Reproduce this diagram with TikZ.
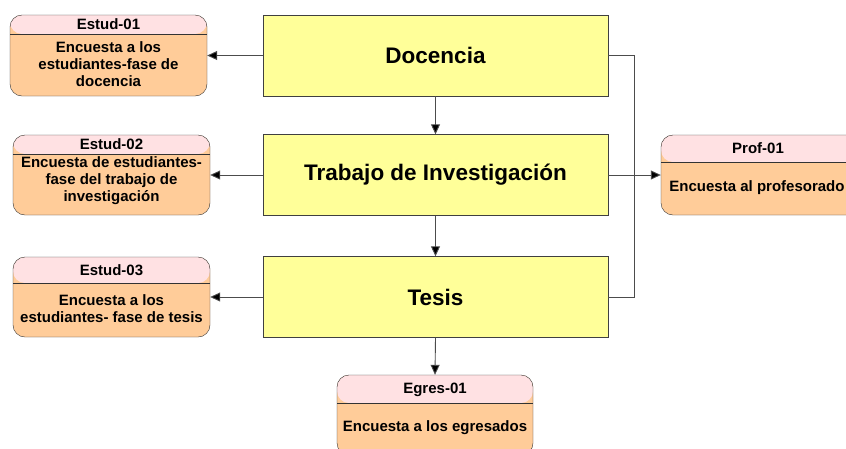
\documentclass[tikz,border=0pt]{standalone}
\usepackage{fontspec}
\setmainfont{Liberation Sans}
\usetikzlibrary{arrows.meta}
\definecolor{amarillo}{HTML}{FFFF99}
\definecolor{rosado}{HTML}{FFE1E3}
\definecolor{naranja}{HTML}{FFCC99}
\tikzset{
	fase/.style={draw=black!75, fill=amarillo, inner sep=0pt, minimum width=345pt, minimum height=81pt, font=\bfseries\fontsize{22.5}{26}\selectfont},
	encuesta/.style={draw=black!80, fill=naranja, inner sep=0pt, rounded corners=12pt,
		path picture={\fill[rosado] (path picture bounding box.north west) rectangle ([yshift=-#1]path picture bounding box.north east);
			\draw[black!80] ([yshift=-#1]path picture bounding box.north west) -- ([yshift=-#1]path picture bounding box.north east);}},
	codigo/.style={font=\bfseries\fontsize{15}{17}\selectfont},
	texto/.style={align=center, font=\bfseries\fontsize{15}{17}\selectfont},
	linea/.style={draw=black!70, line width=0.9pt},
	flecha/.style={linea, -{Triangle[length=10pt, width=9pt, fill=black]}}
}
\begin{document}
\begin{tikzpicture}[x=1pt, y=-1pt]
	\clip (0,0) rectangle (846,448);
	\fill[white] (0,0) rectangle (846,448);
	% fases
	\node[fase] (doc) at (435.5,55.5) {Docencia};
	\node[fase] (inv) at (435.5,175) {Trabajo de Investigación};
	\node[fase] (tes) at (435.5,297) {Tesis};
	% encuestas
	\node[encuesta=19pt, minimum width=197pt, minimum height=81pt] (est1) at (108.5,55.5) {};
	\node[codigo] at (108.5,24.5) {Estud-01};
	\node[texto] at (108.5,64) {Encuesta a los\\estudiantes-fase de\\docencia};
	\node[encuesta=19pt, minimum width=197pt, minimum height=80pt] (est2) at (111.5,175) {};
	\node[codigo] at (111.5,144.5) {Estud-02};
	\node[texto] at (111.5,180.5) {Encuesta de estudiantes-\\fase del trabajo de\\investigación};
	\node[encuesta=26pt, minimum width=197pt, minimum height=80pt] (est3) at (111.5,297) {};
	\node[codigo] at (111.5,270) {Estud-03};
	\node[texto] at (111.5,309) {Encuesta a los\\estudiantes- fase de tesis};
	\node[encuesta=27pt, minimum width=197pt, minimum height=80pt] (prof) at (759.5,175) {};
	\node[codigo] at (758,148.5) {Prof-01};
	\node[texto] at (757,188) {Encuesta al profesorado};
	\node[encuesta=28pt, minimum width=196pt, minimum height=80pt] (egr) at (435,415) {};
	\node[codigo] at (435,389.5) {Egres-01};
	\node[texto] at (435,428) {Encuesta a los egresados};
	% conectores
	\draw[flecha] (doc.west) -- (est1.east);
	\draw[flecha] (inv.west) -- (est2.east);
	\draw[flecha] (tes.west) -- (est3.east);
	\draw[flecha] (doc.south) -- (inv.north);
	\draw[flecha] (inv.south) -- (tes.north);
	\draw[flecha] (tes.south) -- (egr.north);
	\coordinate (bus) at (634,0);
	\draw[linea] (doc.east) -| (bus |- tes.east) -- (tes.east);
	\draw[flecha] (inv.east) -- (prof.west);
\end{tikzpicture}
\end{document}
